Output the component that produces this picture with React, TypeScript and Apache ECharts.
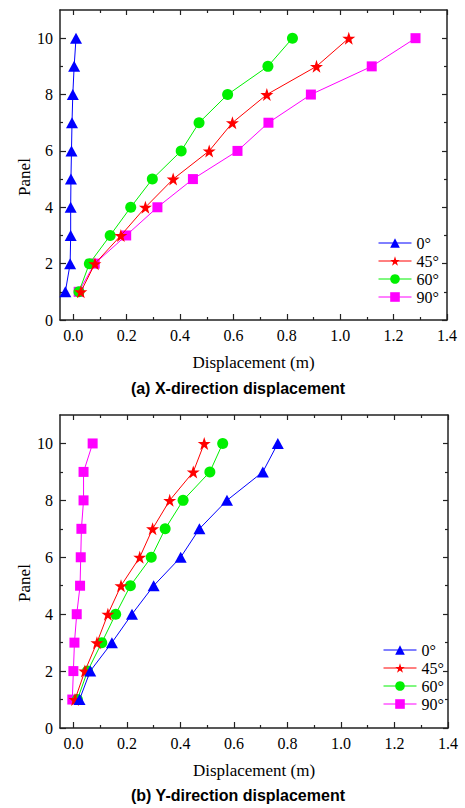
import React, { useEffect, useRef } from "react";
import * as echarts from "echarts";

// Panel numbers (y values) shared by every series
const panels = [1, 2, 3, 4, 5, 6, 7, 8, 9, 10];
const angleNames = ["0°", "45°", "60°", "90°"];

// (a) X-direction displacement (m) per panel
const xDisp0 = [-0.03, -0.012, -0.01, -0.01, -0.009, -0.007, -0.005, -0.002, 0.003, 0.01];
const xDisp45 = [0.028, 0.081, 0.178, 0.27, 0.374, 0.509, 0.596, 0.725, 0.911, 1.032];
const xDisp60 = [0.021, 0.06, 0.138, 0.215, 0.296, 0.404, 0.471, 0.578, 0.729, 0.821];
const xDisp90 = [0.02, 0.08, 0.198, 0.315, 0.448, 0.615, 0.731, 0.89, 1.118, 1.282];

// (b) Y-direction displacement (m) per panel
const yDisp0 = [0.023, 0.063, 0.144, 0.219, 0.3, 0.401, 0.471, 0.574, 0.708, 0.764];
const yDisp45 = [0.006, 0.043, 0.088, 0.129, 0.178, 0.248, 0.296, 0.36, 0.448, 0.489];
const yDisp60 = [0.015, 0.053, 0.106, 0.158, 0.213, 0.291, 0.343, 0.41, 0.51, 0.558];
const yDisp90 = [-0.004, 0.0, 0.004, 0.0125, 0.025, 0.0275, 0.03, 0.038, 0.038, 0.072];

// Tick positions
const xMajorTicks = [0, 0.2, 0.4, 0.6, 0.8, 1.0, 1.2, 1.4];
const xMinorTicks = [0.1, 0.3, 0.5, 0.7, 0.9, 1.1, 1.3];
const yMajorTicks = [0, 2, 4, 6, 8, 10];
const yMinorTicks = [1, 3, 5, 7, 9];

const SERIF = "Liberation Serif";
const SANS = "Liberation Sans";
const AXIS_COLOR = "#222";
const STAR =
  "path://M50,0 L61.8,35.1 L98.1,35.1 L68.8,56.7 L79.4,91 L50,70 L20.6,91 L31.2,56.7 L1.9,35.1 L38.2,35.1 Z";

const styles: Record<string, { color: string; symbol: string; size: number | number[] }> = {
  "0°": { color: "#0000FF", symbol: "triangle", size: [12, 11] },
  "45°": { color: "#FF0000", symbol: STAR, size: 13 },
  "60°": { color: "#00F000", symbol: "circle", size: 11 },
  "90°": { color: "#FF00FF", symbol: "rect", size: 10 },
};

const tick = (values: number[], length: number) => ({
  show: true,
  inside: true,
  length,
  customValues: values,
  lineStyle: { color: AXIS_COLOR, width: 1.2 },
});
const frameLine = { show: true, onZero: false, lineStyle: { color: AXIS_COLOR, width: 1.5 } };
const hiddenLine = { show: false, onZero: false };

function xAxes(gridIndex: number) {
  const base = { gridIndex, type: "value", min: -0.05, max: 1.4, splitLine: { show: false } };
  return [
    {
      ...base,
      position: "bottom",
      axisLine: frameLine,
      axisTick: tick(xMajorTicks, 6),
      axisLabel: {
        customValues: xMajorTicks,
        formatter: (v: number) => v.toFixed(1),
        fontFamily: SERIF,
        fontSize: 16,
        color: "#000",
        margin: 7,
      },
      name: "Displacement (m)",
      nameLocation: "middle",
      nameGap: 34,
      nameTextStyle: { fontFamily: SERIF, fontSize: 17, color: "#000" },
    },
    { ...base, position: "top", axisLine: frameLine, axisTick: tick(xMajorTicks, 5), axisLabel: { show: false } },
    { ...base, position: "bottom", axisLine: hiddenLine, axisTick: tick(xMinorTicks, 3), axisLabel: { show: false } },
    { ...base, position: "top", axisLine: hiddenLine, axisTick: tick(xMinorTicks, 3), axisLabel: { show: false } },
  ];
}

function yAxes(gridIndex: number) {
  const base = { gridIndex, type: "value", min: 0, max: 11, splitLine: { show: false } };
  return [
    {
      ...base,
      position: "left",
      axisLine: frameLine,
      axisTick: tick(yMajorTicks, 6),
      axisLabel: { customValues: yMajorTicks, fontFamily: SERIF, fontSize: 16, color: "#000", margin: 7 },
    },
    { ...base, position: "right", axisLine: frameLine, axisTick: tick(yMajorTicks, 5), axisLabel: { show: false } },
    { ...base, position: "left", axisLine: hiddenLine, axisTick: tick(yMinorTicks, 3), axisLabel: { show: false } },
    { ...base, position: "right", axisLine: hiddenLine, axisTick: tick(yMinorTicks, 3), axisLabel: { show: false } },
  ];
}

function lineSeries(name: string, values: number[], axisIndex: number, z: number) {
  const s = styles[name];
  return {
    type: "line",
    name,
    xAxisIndex: axisIndex,
    yAxisIndex: axisIndex,
    data: values.map((v, i) => [v, panels[i]]),
    symbol: s.symbol,
    symbolSize: s.size,
    showAllSymbol: true,
    z,
    itemStyle: { color: s.color, opacity: 1 },
    lineStyle: { color: s.color, width: 1 },
    emphasis: { disabled: true },
  };
}

function legend(left: number, top: number) {
  return {
    orient: "vertical",
    left,
    top,
    itemWidth: 33,
    itemHeight: 12,
    itemGap: 2,
    data: angleNames,
    selectedMode: false,
    lineStyle: { width: 1 },
    textStyle: { fontFamily: SERIF, fontSize: 16, color: "#000", lineHeight: 16 },
  };
}

function rotatedLabel(text: string, x: number, y: number) {
  return {
    type: "text",
    x,
    y,
    rotation: Math.PI / 2,
    style: { text, align: "center", verticalAlign: "middle", font: `17px "${SERIF}"`, fill: "#000" },
  };
}

function caption(text: string, x: number, y: number) {
  return {
    type: "text",
    x,
    y,
    style: { text, align: "center", verticalAlign: "middle", font: `bold 16px "${SANS}"`, fill: "#000" },
  };
}

export default function App() {
  const ref = useRef<HTMLDivElement>(null);

  useEffect(() => {
    if (!ref.current) return;
    const chart = echarts.init(ref.current, undefined, { renderer: "svg" });
    chart.setOption({
      animation: false,
      backgroundColor: "#fff",
      textStyle: { fontFamily: SERIF },
      grid: [
        { left: 60, top: 10, width: 387, height: 310 },
        { left: 60, top: 415, width: 388, height: 313 },
      ],
      xAxis: [...xAxes(0), ...xAxes(1)],
      yAxis: [...yAxes(0), ...yAxes(1)],
      legend: [legend(373, 230), legend(378, 637)],
      series: [
        lineSeries("0°", xDisp0, 0, 2),
        lineSeries("90°", xDisp90, 0, 3),
        lineSeries("60°", xDisp60, 0, 4),
        lineSeries("45°", xDisp45, 0, 5),
        lineSeries("90°", yDisp90, 4, 2),
        lineSeries("60°", yDisp60, 4, 3),
        lineSeries("45°", yDisp45, 4, 4),
        lineSeries("0°", yDisp0, 4, 5),
      ],
      graphic: [
        rotatedLabel("Panel", 24, 177),
        rotatedLabel("Panel", 24, 583),
        caption("(a) X-direction displacement", 238, 388),
        caption("(b) Y-direction displacement", 238, 795),
      ],
    });
    return () => chart.dispose();
  }, []);

  return (
    <div
      ref={ref}
      style={{ position: "absolute", left: 0, top: 0, width: 465, height: 808, background: "#fff" }}
    />
  );
}
